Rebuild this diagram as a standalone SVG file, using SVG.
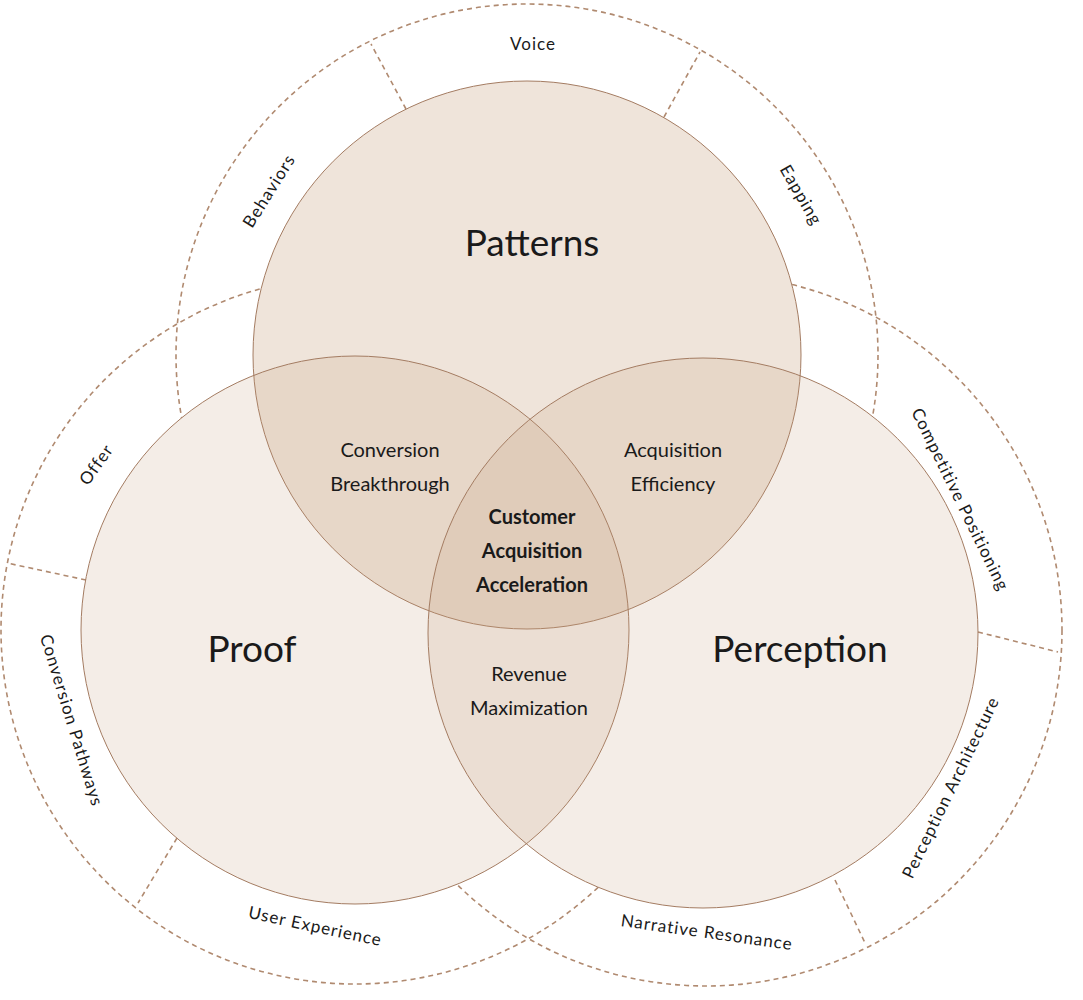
<svg xmlns="http://www.w3.org/2000/svg" width="1083" height="1000" viewBox="0 0 1083 1000">
<style>
.c{stroke:#a47c62;stroke-width:1}
.d{fill:none;stroke:#b08a70;stroke-width:1.6;stroke-dasharray:5 4}
text{font-family:Lato,"Noto Sans",sans-serif;fill:#1a1a1a;text-anchor:middle}
.t{font-size:37px}
.m{font-size:20px}
.o{font-size:17px;letter-spacing:1px}
.b{font-size:20px;font-weight:bold}
</style>
<defs>
<mask id="mk"><rect width="1083" height="1000" fill="#fff"/>
<circle cx="527" cy="355" r="274" fill="#000"/><circle cx="355" cy="630" r="274" fill="#000"/><circle cx="703" cy="633" r="275" fill="#000"/></mask>
</defs>
<rect width="1083" height="1000" fill="#fff"/>
<g id="connectors" mask="url(#mk)">
<circle class="d" cx="527" cy="355" r="351"/>
<circle class="d" cx="355" cy="630" r="354"/>
<circle class="d" cx="706" cy="630" r="356"/>
</g>
<g id="separators">
<line class="d" x1="406" y1="109" x2="371" y2="44"/>
<line class="d" x1="664" y1="117" x2="700" y2="52"/>
<line class="d" x1="86" y1="580" x2="7" y2="563"/>
<line class="d" x1="177" y1="838" x2="138" y2="903"/>
<line class="d" x1="978" y1="632" x2="1058" y2="652"/>
<line class="d" x1="835" y1="880" x2="866" y2="945"/>
</g>
<g id="patterns"><circle class="c" cx="527" cy="355" r="274" fill="#c49a78" fill-opacity="0.27"/></g>
<g id="proof"><circle class="c" cx="355" cy="630" r="274" fill="#c49a78" fill-opacity="0.18"/></g>
<g id="perception"><circle class="c" cx="703" cy="633" r="275" fill="#c49a78" fill-opacity="0.18"/></g>
<g id="labels">
<text class="t" x="532" y="256">Patterns</text>
<text class="t" x="252" y="662">Proof</text>
<text class="t" x="800" y="662">Perception</text>
<text class="m" x="390" y="457">Conversion</text>
<text class="m" x="390" y="491">Breakthrough</text>
<text class="m" x="673" y="457">Acquisition</text>
<text class="m" x="673" y="491">Efficiency</text>
<text class="m" x="529" y="681">Revenue</text>
<text class="m" x="529" y="715">Maximization</text>
<text class="b" x="532" y="524">Customer</text>
<text class="b" x="532" y="558">Acquisition</text>
<text class="b" x="532" y="592">Acceleration</text>
<text class="o" x="533" y="50">Voice</text>
<text class="o" transform="translate(274,194) rotate(-58)">Behaviors</text>
<text class="o" transform="translate(796,198) rotate(60)">Eapping</text>
<text class="o" transform="translate(101,468) rotate(-55)">Offer</text>
<text class="o" transform="translate(66,722) rotate(73)">Conversion Pathways</text>
<text class="o" transform="translate(314,932) rotate(12)">User Experience</text>
<text class="o" transform="translate(706,938) rotate(8)">Narrative Resonance</text>
<text class="o" transform="translate(955,502) rotate(64)">Competitive Positioning</text>
<text class="o" transform="translate(956,790) rotate(-64)">Perception Architecture</text>
</g>
</svg>
